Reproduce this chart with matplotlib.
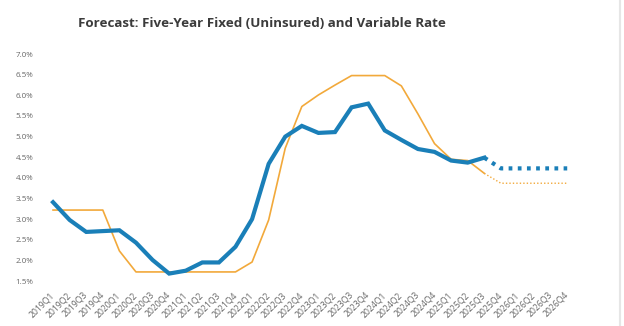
import matplotlib
matplotlib.use("Agg")
import matplotlib.pyplot as plt

plt.rcParams['font.family'] = ['Open Sans', 'DejaVu Sans']

quarters = [f"{y}Q{q}" for y in range(2019, 2027) for q in range(1, 5)]

# variable rate (blue), actual through 2025Q3, then forecast
variable = [3.41, 2.98, 2.69, 2.71, 2.73, 2.43, 2.01, 1.68,
            1.75, 1.95, 1.95, 2.33, 3.00, 4.34, 5.00, 5.26,
            5.09, 5.11, 5.71, 5.80, 5.15, 4.92, 4.70, 4.63,
            4.42, 4.37, 4.49, 4.23, 4.23, 4.23, 4.23, 4.23]

# five-year fixed uninsured (orange)
fixed = [3.22, 3.22, 3.22, 3.22, 2.23, 1.72, 1.72, 1.72,
         1.72, 1.72, 1.72, 1.72, 1.96, 2.98, 4.72, 5.73,
         6.01, 6.25, 6.48, 6.48, 6.48, 6.23, 5.55, 4.83,
         4.45, 4.42, 4.11, 3.87, 3.87, 3.87, 3.87, 3.87]

last_actual = quarters.index("2025Q3")
yticks = [1.5, 2.0, 2.5, 3.0, 3.5, 4.0, 4.5, 5.0, 5.5, 6.0, 6.5, 7.0]

blue = "#1a7fb8"
orange = "#f2a93b"

fig = plt.figure(figsize=(6.24, 3.26), dpi=100)
ax = fig.add_axes([0.085, 0.138, 0.824, 0.696])

x = list(range(len(quarters)))
n = last_actual + 1

ax.plot(x[:n], fixed[:n], color=orange, linewidth=1.2, clip_on=False)
ax.plot(x[last_actual:], fixed[last_actual:], color=orange, linewidth=1.0,
        linestyle=(0, (1, 1.5)), clip_on=False)
ax.plot(x[:n], variable[:n], color=blue, linewidth=3.0, clip_on=False,
        solid_joinstyle='miter')
ax.plot(x[last_actual:], variable[last_actual:], color=blue, linewidth=3.0,
        linestyle=(0, (0.9, 1.3)), clip_on=False)

ax.set_xlim(0, len(quarters) - 1)
ax.set_ylim(1.5, 7.0)
ax.set_yticks(yticks)
ax.set_yticklabels([f"{v:.1f}%" for v in yticks])
ax.set_xticks(x)
ax.set_xticklabels(quarters, rotation=45, ha='right', va='center',
                   rotation_mode='anchor')

ax.tick_params(axis='both', length=0, labelcolor='#666666')
ax.tick_params(axis='y', pad=14, labelsize=5.8)
ax.tick_params(axis='x', pad=9, labelsize=6.2)
for s in ax.spines.values():
    s.set_visible(False)

fig.text(0.42, 0.928, "Forecast: Five-Year Fixed (Uninsured) and Variable Rate",
         ha='center', va='center', fontsize=9.6, fontweight='bold',
         color='#3b3b3b')

# faint border on the right edge like the screenshot
fig.add_artist(plt.Line2D([0.994, 0.994], [0, 1], color='#e6e6e6',
                          linewidth=1.5, transform=fig.transFigure))

fig.savefig("out.png", dpi=100, facecolor='white')
